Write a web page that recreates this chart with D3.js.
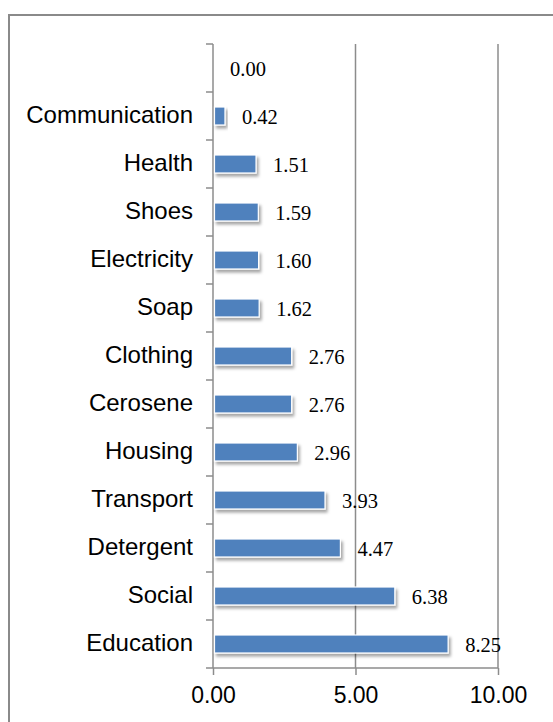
<!DOCTYPE html>
<html>
<head>
<meta charset="utf-8">
<script src="https://cdn.jsdelivr.net/npm/d3@7"></script>
<style>
body { margin: 0; background: #fff; }
svg { display: block; }
</style>
</head>
<body>
<svg id="vis" width="553" height="722"></svg>
<script>
// chart values, bottom to top as in the picture
var categories = ["Education", "Social", "Detergent", "Transport", "Housing", "Cerosene",
	"Clothing", "Soap", "Electricity", "Shoes", "Health", "Communication", ""];
var values = [8.25, 6.38, 4.47, 3.93, 2.96, 2.76, 2.76, 1.62, 1.60, 1.59, 1.51, 0.42, 0.00];
var xTicks = [0, 5, 10];

var PLOT_L = 213, PLOT_R = 498;
var PLOT_T = 44, PLOT_B = 668;
var GRID_COLOR = "#8c8c8c";
var BAR_COLOR = "#4f81bd";

var svg = d3.select("#vis");

// drop shadow for the bars
var defs = svg.append("defs");
var f = defs.append("filter").attr("id", "shadow")
	.attr("x", "-10%").attr("y", "-30%").attr("width", "130%").attr("height", "180%");
f.append("feDropShadow")
	.attr("dx", 2).attr("dy", 3).attr("stdDeviation", 1.8)
	.attr("flood-color", "#000").attr("flood-opacity", 0.35);

// outer frame (cropped on the right and bottom)
svg.append("path")
	.attr("d", "M9,722 V15 H553")
	.attr("fill", "none").attr("stroke", "#8a8a8a").attr("stroke-width", 2);

var x = d3.scaleLinear().domain([0, 10]).range([PLOT_L, PLOT_R]);
// reversed so the first category sits at the bottom
var y = d3.scaleBand().domain(d3.range(categories.length).reverse())
	.range([PLOT_T, PLOT_B]).paddingInner(0).paddingOuter(0);
var barH = y.bandwidth() * 0.375;

// vertical gridlines
svg.append("g").selectAll("line")
	.data(xTicks.slice(1))
	.join("line")
	.attr("x1", function(d) { return x(d); }).attr("x2", function(d) { return x(d); })
	.attr("y1", PLOT_T).attr("y2", PLOT_B)
	.attr("stroke", GRID_COLOR).attr("stroke-width", 1.5);

// x axis
var xAxis = svg.append("g")
	.attr("transform", "translate(0," + PLOT_B + ")")
	.call(d3.axisBottom(x).tickValues(xTicks).tickSize(7).tickPadding(12)
		.tickFormat(d3.format(".2f")));
xAxis.select(".domain").attr("stroke", GRID_COLOR).attr("stroke-width", 1.5)
	.attr("d", "M" + (PLOT_L - 7) + ",0H" + PLOT_R);
xAxis.selectAll(".tick line").attr("stroke", GRID_COLOR).attr("stroke-width", 1.5);
xAxis.selectAll(".tick text")
	.attr("fill", "#000")
	.style("font-family", "'Liberation Sans', Arial, sans-serif")
	.style("font-size", "23px");

// y axis: ticks between the categories
var yAxis = svg.append("g");
yAxis.append("line")
	.attr("x1", PLOT_L).attr("x2", PLOT_L)
	.attr("y1", PLOT_T).attr("y2", PLOT_B)
	.attr("stroke", GRID_COLOR).attr("stroke-width", 1.5);
yAxis.selectAll("line.tk")
	.data(d3.range(categories.length))
	.join("line").attr("class", "tk")
	.attr("x1", PLOT_L - 7).attr("x2", PLOT_L)
	.attr("y1", function(i) { return y(i); }).attr("y2", function(i) { return y(i); })
	.attr("stroke", GRID_COLOR).attr("stroke-width", 1.5);

// bars
svg.append("g").selectAll("rect")
	.data(values.map(function(v, i) { return { v: v, i: i }; }).filter(function(d) { return d.v > 0; }))
	.join("rect")
	.attr("x", x(0) + 1.5)
	.attr("y", function(d) { return y(d.i) + (y.bandwidth() - barH) / 2; })
	.attr("width", function(d) { return x(d.v) - x(0) - 1.5; })
	.attr("height", barH)
	.attr("fill", BAR_COLOR)
	.attr("stroke", "#fff").attr("stroke-width", 1.2)
	.attr("filter", "url(#shadow)");

// category labels
svg.append("g").selectAll("text")
	.data(categories)
	.join("text")
	.attr("x", PLOT_L - 20)
	.attr("y", function(d, i) { return y(i) + y.bandwidth() / 2 - 1; })
	.attr("dy", "0.35em")
	.attr("text-anchor", "end")
	.style("font-family", "'Liberation Sans', Arial, sans-serif")
	.style("font-size", "24px")
	.text(function(d) { return d; });

// value labels
svg.append("g").selectAll("text")
	.data(values)
	.join("text")
	.attr("x", function(d) { return x(d) + 17; })
	.attr("y", function(d, i) { return y(i) + y.bandwidth() / 2 + 1; })
	.attr("dy", "0.35em")
	.style("font-family", "'Liberation Serif', 'Times New Roman', serif")
	.style("font-size", "20.5px")
	.text(function(d) { return d.toFixed(2); });
</script>
</body>
</html>
